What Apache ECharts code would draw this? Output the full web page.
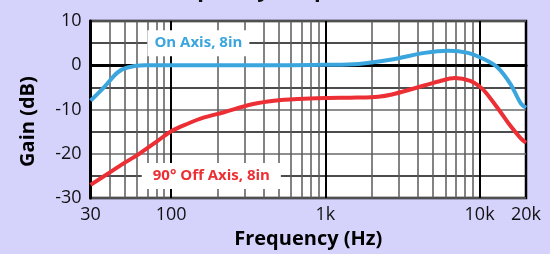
<!DOCTYPE html>
<html>
<head>
<meta charset="utf-8">
<script src="https://cdn.jsdelivr.net/npm/echarts@6/dist/echarts.min.js"></script>
<style>
  html, body { margin: 0; padding: 0; background: #d5d3fb; }
  #chart { width: 550px; height: 254px; }
</style>
</head>
<body>
<div id="chart"></div>
<script>
// frequency response
const onAxis = [
  [30, -8], [37, -4.8], [45, -1.6], [52, -0.5], [67, 0], [100, 0], [500, 0],
  [1000, 0.1], [1640, 0.3], [2700, 1.3], [4400, 2.8], [6250, 3.3], [8400, 2.8],
  [10800, 1.3], [13100, -0.5], [15900, -4.3], [18500, -8.6], [20000, -9.6]
];
const offAxis = [
  [30, -27], [40, -24.2], [50, -22], [62, -20], [80, -17.3], [100, -14.9],
  [130, -13.1], [160, -11.9], [220, -10.6], [335, -8.8], [465, -8.0], [670, -7.6],
  [1000, -7.4], [1600, -7.3], [2200, -7.1], [2700, -6.6], [3700, -5.3], [5500, -3.6],
  [6900, -2.9], [8700, -3.5], [10000, -4.8], [11000, -6.2], [13700, -10.6],
  [15700, -13.5], [18500, -16.5], [20000, -17.5]
];
const tickValues = [30, 100, 1000, 10000, 20000];
const tickLabels = ['30', '100', '1k', '10k', '20k'];
const majorFreqs = [100, 1000, 10000];
const minorFreqs = [40, 50, 60, 70, 80, 90, 200, 300, 400, 500, 600, 700, 800, 900,
  2000, 3000, 4000, 5000, 6000, 7000, 8000, 9000];
const onLabelAt = [150, 5];
const offLabelAt = [182, -25];

const font = '"Open Sans", sans-serif';
const myChart = echarts.init(document.getElementById('chart'));

const option = {
  backgroundColor: '#d5d3fb',
  animation: false,
  title: {
    text: 'Frequency Response',
    left: 155,
    top: -20,
    padding: 0,
    textStyle: { fontFamily: font, fontWeight: 'bold', fontSize: 22, color: '#111' }
  },
  grid: {
    left: 90.6,
    right: 24,
    top: 21,
    bottom: 54,
    show: true,
    backgroundColor: '#fff',
    borderColor: '#000',
    borderWidth: 2.5
  },
  xAxis: {
    type: 'log',
    min: 30,
    max: 20000,
    name: 'Frequency (Hz)',
    nameLocation: 'middle',
    nameGap: 28,
    nameTextStyle: { fontFamily: font, fontWeight: 'bold', fontSize: 20, color: '#000' },
    axisLine: { show: true, lineStyle: { color: '#000', width: 3 } },
    axisTick: { show: false },
    splitLine: { show: false },
    axisLabel: {
      showMinLabel: true,
      showMaxLabel: true,
      margin: 8,
      fontFamily: font,
      fontSize: 18,
      color: '#111',
      formatter: function (v) {
        const i = tickValues.findIndex(t => Math.abs(t - v) / t < 0.01);
        return i >= 0 ? tickLabels[i] : '';
      }
    }
  },
  yAxis: {
    type: 'value',
    min: -30,
    max: 10,
    interval: 5,
    name: 'Gain (dB)',
    nameLocation: 'middle',
    nameGap: 52,
    nameTextStyle: {
      fontFamily: font, fontWeight: 'bold', fontSize: 20, color: '#000',
      padding: [0, 24, 0, 0]
    },
    axisLine: { show: true, lineStyle: { color: '#000', width: 3 } },
    axisTick: { show: false },
    splitLine: { show: true, lineStyle: { color: ['#6a6a6a', '#111'], width: 1.5 } },
    axisLabel: {
      margin: 9,
      fontFamily: font,
      fontSize: 18,
      color: '#111',
      formatter: v => (v % 10 === 0 ? String(v) : '')
    }
  },
  series: [
    {
      name: 'On Axis, 8in',
      type: 'line',
      data: onAxis,
      smooth: 0.35,
      showSymbol: false,
      z: 3,
      lineStyle: { color: '#3ba5de', width: 4 },
      markPoint: {
        symbolSize: 0,
        silent: true,
        data: [{ coord: onLabelAt, value: 'On Axis, 8in' }],
        label: {
          show: true,
          position: 'inside',
          formatter: '{c}',
          fontFamily: font,
          fontWeight: 'bold',
          fontSize: 15,
          color: '#3ba5de',
          backgroundColor: '#fff',
          padding: [6, 7, 5, 7]
        }
      }
    },
    {
      name: '90° Off Axis, 8in',
      type: 'line',
      data: offAxis,
      smooth: 0.35,
      showSymbol: false,
      z: 3,
      lineStyle: { color: '#ec2f34', width: 4 },
      markLine: {
        z: 1,
        silent: true,
        symbol: 'none',
        label: { show: false },
        animation: false,
        data: [
          ...minorFreqs.map(f => ({ xAxis: f, lineStyle: { color: '#5a5a5a', width: 1.5, type: 'solid' } })),
          ...majorFreqs.map(f => ({ xAxis: f, lineStyle: { color: '#000', width: 2, type: 'solid' } })),
          { yAxis: 0, lineStyle: { color: '#000', width: 2.5, type: 'solid' } }
        ]
      },
      markPoint: {
        symbolSize: 0,
        silent: true,
        data: [{ coord: offLabelAt, value: '90° Off Axis, 8in' }],
        label: {
          show: true,
          position: 'inside',
          formatter: '{c}',
          fontFamily: font,
          fontWeight: 'bold',
          fontSize: 15,
          color: '#ec2f34',
          backgroundColor: '#fff',
          padding: [6, 11, 5, 11]
        }
      }
    }
  ]
};
myChart.setOption(option);
</script>
</body>
</html>
